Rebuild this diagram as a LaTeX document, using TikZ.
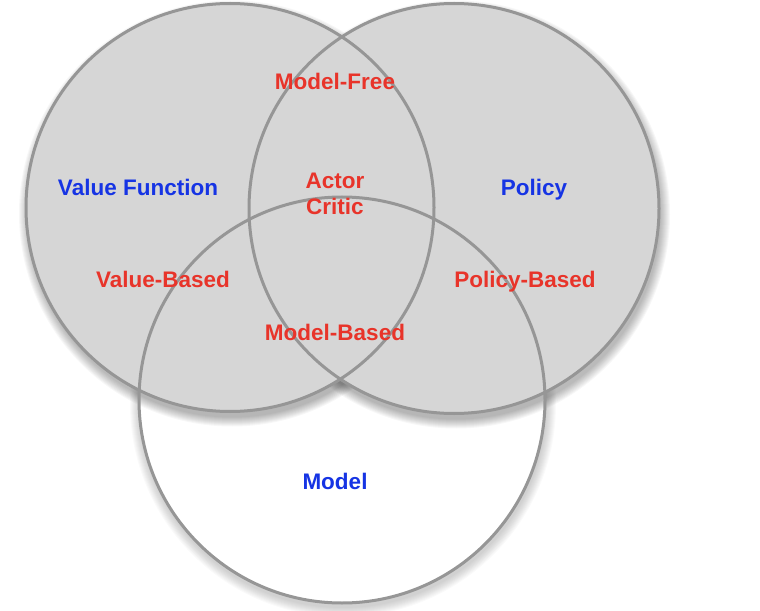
\documentclass[tikz,border=0pt]{standalone}
\usepackage{fontspec}
\setmainfont{Liberation Sans}
\begin{document}
\begin{tikzpicture}[x=1bp,y=-1bp,
  outline/.style={draw=ringgray, line width=3bp},
  labelbase/.style={font=\fontsize{22.5bp}{26bp}\selectfont\bfseries, inner sep=0pt, text height=16.1bp, text depth=0pt},
  setlabel/.style={labelbase, text=setblue},
  zonelabel/.style={labelbase, text=zonered}]
\definecolor{ringgray}{RGB}{150,150,150}
\definecolor{fillgray}{RGB}{214,214,214}
\definecolor{setblue}{RGB}{22,52,228}
\definecolor{zonered}{RGB}{232,52,42}
\useasboundingbox (0,0) rectangle (760,611);
\coordinate (cv) at (230,207.5);
\coordinate (cp) at (454,208.5);
\coordinate (cm) at (342,400);
\def\rv{204}\def\rp{205}\def\rm{203}
% shadow of Model circle
\foreach \k in {0,...,9}
  \fill[black, opacity=0.02] ([shift={(1,4)}]cm) circle ({\rm+10-\k});
\fill[white] (cm) circle (\rm);
% shadows of the two grey circles
\foreach \k in {0,...,9}{
  \fill[black, opacity=0.033] ([shift={(2,6)}]cv) circle ({\rv+9-\k});
  \fill[black, opacity=0.033] ([shift={(2,6)}]cp) circle ({\rp+9-\k});
}
\fill[fillgray] (cv) circle (\rv);
\fill[fillgray] (cp) circle (\rp);
% outlines
\draw[outline] (cm) circle (\rm);
\draw[outline] (cv) circle (\rv);
\draw[outline] (cp) circle (\rp);
% labels
\node[setlabel] (valfun) at (138,187.5) {Value Function};
\node[setlabel] (policy) at (534,187.5) {Policy};
\node[setlabel] (model) at (335,481) {Model};
\node[zonelabel] (mfree) at (335,81.5) {Model-Free};
\node[zonelabel] (actor) at (335,180) {Actor};
\node[zonelabel] (critic) at (335,206) {Critic};
\node[zonelabel] (vbased) at (163,279) {Value-Based};
\node[zonelabel] (pbased) at (525,279) {Policy-Based};
\node[zonelabel] (mbased) at (335,332) {Model-Based};
\end{tikzpicture}
\end{document}
